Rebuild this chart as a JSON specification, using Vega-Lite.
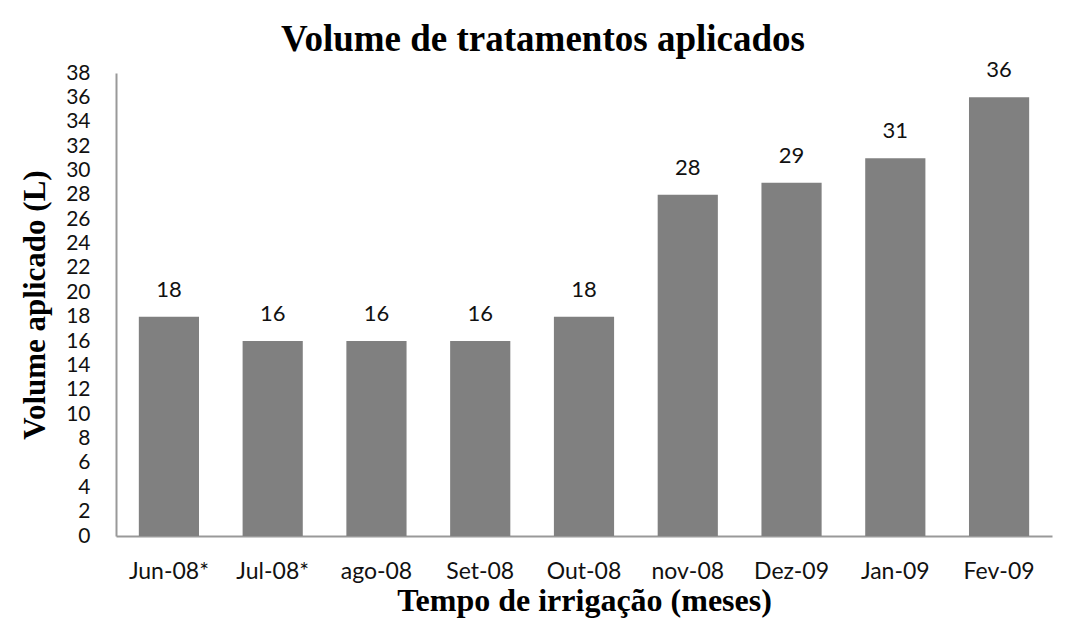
{
  "$schema": "https://vega.github.io/schema/vega-lite/v6.json",
  "width": 936,
  "height": 463,
  "autosize": {"type": "none"},
  "padding": {"left": 116, "top": 73, "right": 18, "bottom": 94},
  "background": "white",
  "title": {
    "text": "Volume de tratamentos aplicados",
    "font": "Liberation Serif",
    "fontSize": 37,
    "fontWeight": "bold",
    "color": "#000000",
    "anchor": "middle",
    "dx": -41,
    "offset": 0
  },
  "data": {
    "values": [
      {"mes": "Jun-08*", "volume": 18},
      {"mes": "Jul-08*", "volume": 16},
      {"mes": "ago-08", "volume": 16},
      {"mes": "Set-08", "volume": 16},
      {"mes": "Out-08", "volume": 18},
      {"mes": "nov-08", "volume": 28},
      {"mes": "Dez-09", "volume": 29},
      {"mes": "Jan-09", "volume": 31},
      {"mes": "Fev-09", "volume": 36}
    ]
  },
  "encoding": {
    "x": {
      "field": "mes",
      "type": "nominal",
      "sort": null,
      "scale": {"paddingInner": 0.42, "paddingOuter": 0.22},
      "axis": {
        "title": "Tempo de irrigação (meses)",
        "titleFont": "Liberation Serif",
        "titleFontSize": 32,
        "titleFontWeight": "bold",
        "titleColor": "#000000",
        "titlePadding": 2,
        "labelFont": "Lato",
        "labelFontSize": 23,
        "labelColor": "#111111",
        "labelAngle": 0,
        "labelPadding": 24,
        "ticks": false,
        "domainColor": "#999999",
        "domainWidth": 2
      }
    },
    "y": {
      "field": "volume",
      "type": "quantitative",
      "scale": {"domain": [0, 38], "nice": false},
      "axis": {
        "title": "Volume aplicado (L)",
        "titleFont": "Liberation Serif",
        "titleFontSize": 31,
        "titleFontWeight": "bold",
        "titleColor": "#000000",
        "titlePadding": 14,
        "labelFont": "Lato",
        "labelFontSize": 21,
        "labelColor": "#111111",
        "labelPadding": 26,
        "values": [0, 2, 4, 6, 8, 10, 12, 14, 16, 18, 20, 22, 24, 26, 28, 30, 32, 34, 36, 38],
        "labelOverlap": false,
        "ticks": false,
        "grid": false,
        "domainColor": "#999999",
        "domainWidth": 2
      }
    }
  },
  "layer": [
    {"mark": {"type": "bar", "color": "#808080"}},
    {
      "mark": {
        "type": "text",
        "baseline": "bottom",
        "dy": -15,
        "font": "Lato",
        "fontSize": 22,
        "color": "#111111"
      },
      "encoding": {"text": {"field": "volume", "type": "quantitative"}}
    }
  ],
  "config": {"view": {"stroke": null}}
}
